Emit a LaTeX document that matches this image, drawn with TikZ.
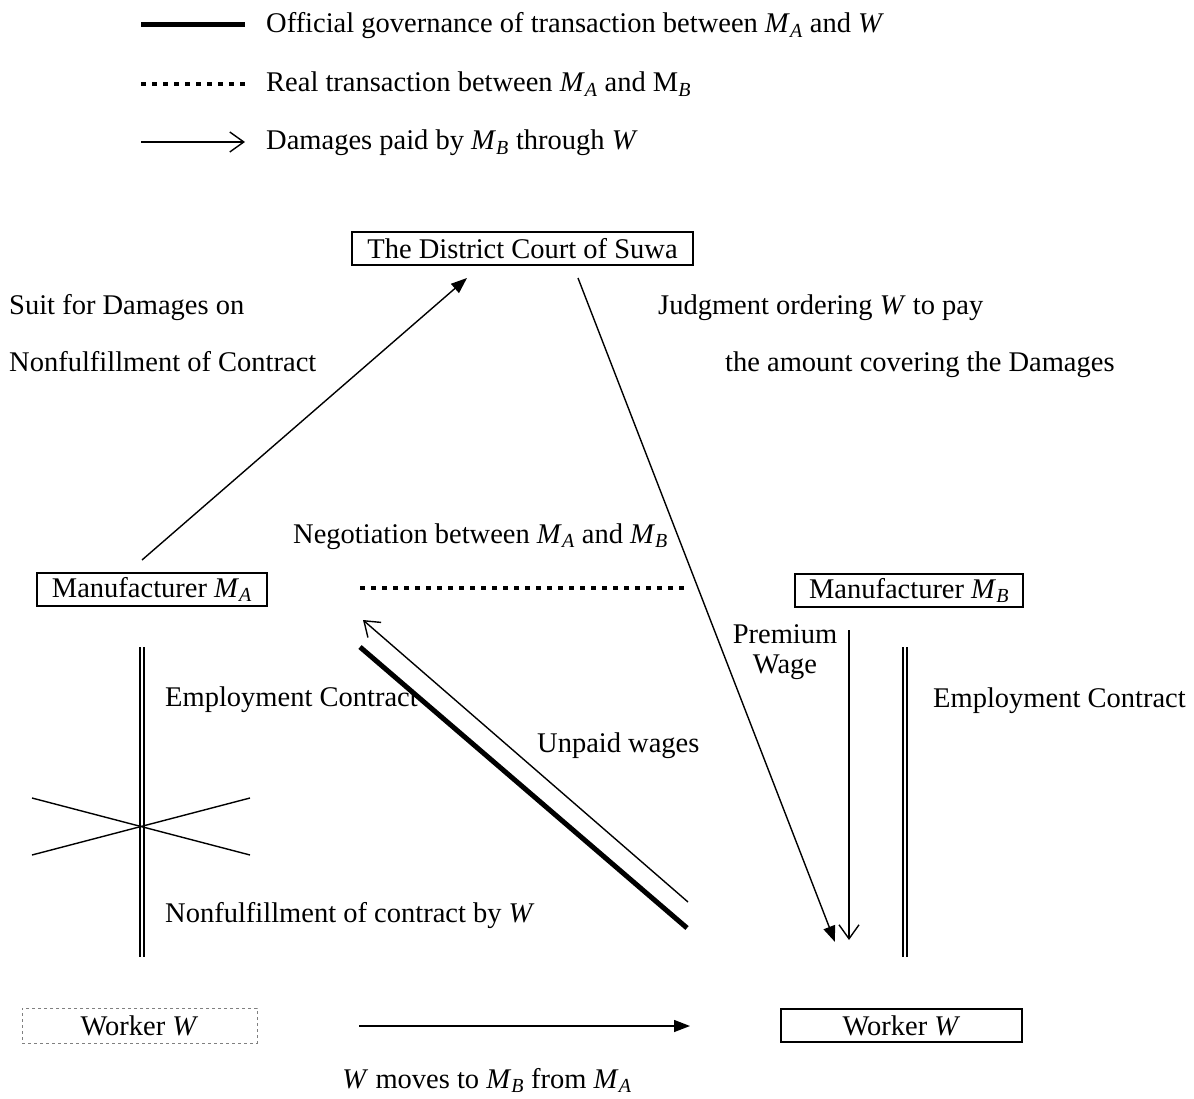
\documentclass[tikz,border=0pt]{standalone}
\usepackage{fontspec}
\setmainfont{Liberation Serif}
\usetikzlibrary{arrows.meta}
\newcommand{\itM}[1]{\textit{M}\textsubscript{\textit{#1}}}
\begin{document}
\begin{tikzpicture}[x=1pt,y=-1pt,
  every node/.style={font=\fontsize{28.5}{30}\selectfont, inner sep=0pt},
  txt/.style={anchor=base west},
  box/.style={draw, line width=1.3pt, minimum height=33pt, anchor=center},
  dbox/.style={draw=gray, dashed, line width=0.8pt, minimum height=35pt, anchor=center},
  thin/.style={line width=1.4pt},
  fillarr/.style={line width=1.4pt, -{Triangle[length=16pt,width=12pt]}},
  openarr/.style={line width=1.4pt, -{Straight Barb[length=14pt,width=20pt,line width=1.4pt]}},
  thickline/.style={line width=5pt},
  dotline/.style={line width=4.5pt, dash pattern=on 4.5pt off 6.5pt},
  dline/.style={double, line width=2.2pt, double distance=2.5pt}
]
\useasboundingbox (0,0) rectangle (1194,1099);
% legend
\coordinate (l1a) at (141,25); \coordinate (l1b) at (245,25);
\coordinate (l2a) at (141,84); \coordinate (l2b) at (245,84);
\coordinate (l3a) at (141,142); \coordinate (l3b) at (245,142);
\draw[thickline] (l1a) -- (l1b);
\draw[dotline] (l2a) -- (l2b);
\draw[openarr] (l3a) -- (l3b);
\node[txt] (lt1) at (266,33) {Official governance of transaction between \itM{A} and \textit{W}};
\node[txt] (lt2) at (266,92) {Real transaction between \itM{A} and M\textsubscript{\textit{B}}};
\node[txt] (lt3) at (266,150) {Damages paid by \itM{B} through \textit{W}};
% boxes
\node[box, minimum width=341pt] (court) at (522.5,248.5) {The District Court of Suwa};
\node[box, minimum width=230pt] (ma) at (152,589.5) {Manufacturer \itM{A}};
\node[box, minimum width=228pt] (mb) at (909,590.5) {Manufacturer \itM{B}};
\node[dbox, minimum width=235pt] (wa) at (139.5,1025.5) {Worker \textit{W}};
\node[box, minimum width=241pt] (wb) at (901.5,1025.5) {Worker \textit{W}};
% connector coordinates
\coordinate (maout) at (142,560);
\coordinate (courtin) at (467,278);
\coordinate (courtout) at (578,278);
\coordinate (win) at (835,942);
\coordinate (dotA) at (360,588); \coordinate (dotB) at (688,588);
\coordinate (thickA) at (360,647); \coordinate (thickB) at (687,928);
\coordinate (upS) at (688,902); \coordinate (upE) at (363,620);
\coordinate (premS) at (849,630); \coordinate (premE) at (849,940);
\coordinate (dlA1) at (142,647); \coordinate (dlA2) at (142,957);
\coordinate (dlB1) at (905,647); \coordinate (dlB2) at (905,957);
\coordinate (cr1) at (32,798); \coordinate (cr2) at (250,855);
\coordinate (cr3) at (32,855); \coordinate (cr4) at (250,798);
\coordinate (movS) at (359,1026); \coordinate (movE) at (690,1026);
% connectors
\draw[fillarr] (maout) -- (courtin);
\draw[fillarr] (courtout) -- (win);
\draw[dotline] (dotA) -- (dotB);
\draw[thickline] (thickA) -- (thickB);
\draw[openarr] (upS) -- (upE);
\draw[openarr] (premS) -- (premE);
\draw[dline] (dlA1) -- (dlA2);
\draw[dline] (dlB1) -- (dlB2);
\draw[thin] (cr1) -- (cr2);
\draw[thin] (cr3) -- (cr4);
\draw[fillarr] (movS) -- (movE);
% labels
\node[txt] (t1) at (9,315) {Suit for Damages on};
\node[txt] (t2) at (9,371) {Nonfulfillment of Contract};
\node[txt] (t3) at (658,315) {Judgment ordering \textit{W} to pay};
\node[txt] (t4) at (725,371) {the amount covering the Damages};
\node[txt] (t5) at (293,543) {Negotiation between \itM{A} and \itM{B}};
\node[anchor=base] (p1) at (785,643) {Premium};
\node[anchor=base] (p2) at (785,673) {Wage};
\node[txt] (t6) at (165,706) {Employment Contract};
\node[txt] (t7) at (933,707) {Employment Contract};
\node[txt] (t8) at (537,752) {Unpaid wages};
\node[txt] (t9) at (165,922) {Nonfulfillment of contract by \textit{W}};
\node[anchor=base] (t10) at (487,1088) {\textit{W} moves to \itM{B} from \itM{A}};
\end{tikzpicture}
\end{document}
